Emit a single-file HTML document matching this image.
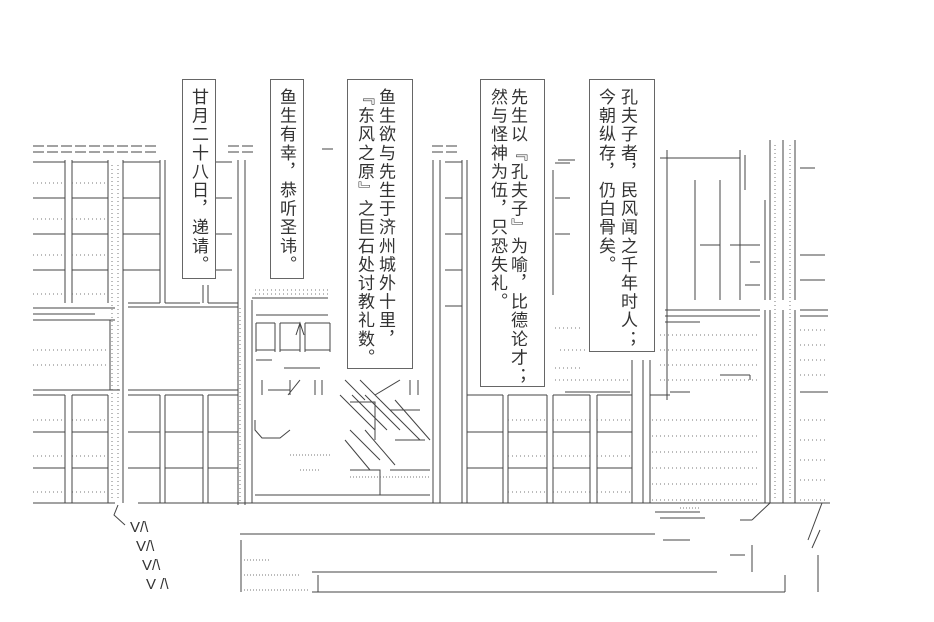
<!DOCTYPE html>
<html><head><meta charset="utf-8"><style>
html,body{margin:0;padding:0;background:#fff;width:934px;height:622px;overflow:hidden;position:relative}
.box{position:absolute;border:1px solid #666;background:#fff}
.col{position:absolute;writing-mode:vertical-rl;font-family:"Liberation Sans","Noto Sans CJK SC",sans-serif;font-size:17px;letter-spacing:1.6px;line-height:18px;color:#333;top:88px;width:18px}
svg{position:absolute;left:0;top:0}
</style></head><body>
<svg width="934" height="622" viewBox="0 0 934 622" stroke="#444" stroke-width="1" fill="none">
<g stroke-dasharray="11 3">
<path d="M33 146H158M33 152H158M228 146H256M228 152H256M322 149H334M432 146H460M432 152H460"/>
</g>
<path d="M65 160V303M72 160V303M108 160V303M123 160V503M160 160V303M165 160V303M238 160V505M245 160V505"/>
<path d="M33 162H65M72 162H108M123 162H160M33 198H65M72 198H108M123 198H160M33 234H65M72 234H108M123 234H160M33 270H65M72 270H108M123 270H160M215 162H232M215 198H232M215 234H232M215 270H232"/>
<path d="M128 303H160M165 303H200M208 303H238M252 298H328M203 285V303M208 285V303"/>
<g stroke="#777" stroke-dasharray="1 3">
<path d="M33 183H65M72 183H108M33 219H65M72 219H108M33 255H65M72 255H108M33 294H65M72 294H108M112 165V500M118 165V500"/>
<path d="M33 350H108M33 365H108M33 420H65M72 420H108M33 456H65M72 456H108M33 492H65M72 492H108M255 290H330M255 294H330"/>
</g>
<path d="M33 308H115M33 314H95M33 320H115M128 307H238M33 390H120M128 390H238M110 320V390"/>
<path d="M65 395V503M72 395V503M108 395V503M160 395V503M165 395V503M203 395V503M208 395V503M252 300V503"/>
<path d="M33 395H65M72 395H108M128 395H160M165 395H203M208 395H238M33 432H65M72 432H108M128 432H160M165 432H203M208 432H238M33 468H65M72 468H108M128 468H160M165 468H203M208 468H238M33 503H115M138 503H830"/>
<path d="M256 315H328M256 323V352M275 323V352M280 323V352M300 323V352M305 323V352M330 323V352M256 323H275M280 323H300M305 323H330M256 350H275M280 350H300M305 350H330M296 335L300 323L304 335M256 360H272M284 368H320"/>
<path d="M262 380V395M268 390H290M290 380V395M300 380L288 395M315 380V395M322 380V395M345 380L365 400M360 380L380 400M410 380V395M418 380V395M375 395L400 380"/>
<path d="M340 395L375 430M352 395L387 430M365 395L400 430M380 400L420 440M395 400L430 440M350 430L380 460M365 430L395 465M345 440L370 470M255 420V430L262 438H280L290 430M350 402H375V440M390 410H420M395 440H425M390 470H430M350 470H380V495M255 495H430"/>
<g stroke="#777" stroke-dasharray="1 2"><path d="M350 477H430M290 455H330M300 470H320"/></g>
<path d="M433 160V503M440 160V503M462 160V503M467 160V503M445 162H462M445 198H462M445 234H462M445 270H462M445 306H462M553 170V295M555 163H570M555 198H570M555 234H570M558 160H575"/>
<path d="M503 395V503M508 395V503M547 395V503M553 395V503M590 395V503M597 395V503M632 360V503M643 360V503M650 360V503M765 310V503M770 310V503M783 310V503M795 310V503M765 200V300M770 140V300M783 140V300M795 140V300"/>
<path d="M467 395H503M508 395H547M553 395H590M597 395H632M467 432H503M508 432H547M553 432H590M597 432H632M467 468H503M508 468H547M553 468H590M597 468H632M565 392H630M650 395H670M670 392H690"/>
<g stroke="#777" stroke-dasharray="1 3">
<path d="M555 328H580M560 350H585M555 368H580M555 380H630M652 420H760M652 436H760M652 452H760M652 468H760M652 484H760M652 500H760M508 420H547M553 420H590M597 420H632M508 456H547M553 456H590M597 456H632M508 492H547M553 492H590M597 492H632M800 330H828M800 345H828M800 360H828M800 375H828M800 420H828M800 440H828M800 460H828M800 480H828M800 500H828M775 145V500M790 145V500M660 335H760M660 350H760M660 365H760M660 380H760M240 308V503"/>
</g>
<path d="M667 150V400M665 310H760M665 316H760M665 322H700M800 310H828M800 316H828M800 392H828M720 375H750M750 375V380M660 158H740M745 155V190M695 180V300M720 180V300M740 150V300M730 245H760M745 285H760M700 245H720M750 262H760M800 168H815M800 255H825M800 280H825"/>
<path d="M240 534H655M241 540V592M312 572H717M312 592H785M318 575V592M785 575V592M752 545V572M770 503L752 520M752 520H740M818 555V592M822 503L808 540M820 530L812 548M655 512H700M660 518H705M730 555H745M663 540H690"/>
<g stroke="#777" stroke-dasharray="1 2"><path d="M244 560H270M244 575H300M244 590H310M680 508H700"/></g>
<path d="M118 505L114 515L125 525"/>
</svg>
<div style="position:absolute;left:118px;top:518px;font:15px 'Liberation Sans',sans-serif;line-height:19px;color:#333">
<div style="padding-left:12px">V/\</div><div style="padding-left:18px">V/\</div><div style="padding-left:24px">V/\</div><div style="padding-left:28px">V /\</div></div>

<div class="box" style="left:182px;top:79px;width:32px;height:198px"></div>
<div class="col" style="left:189px">甘月二十八日，递请。</div>
<div class="box" style="left:270px;top:79px;width:32px;height:198px"></div>
<div class="col" style="left:277px">鱼生有幸，恭听圣讳。</div>
<div class="box" style="left:347px;top:79px;width:64px;height:288px"></div>
<div class="col" style="left:376px">鱼生欲与先生于济州城外十里，</div>
<div class="col" style="left:355px">『东风之原』之巨石处讨教礼数。</div>
<div class="box" style="left:480px;top:79px;width:63px;height:306px"></div>
<div class="col" style="left:508px">先生以『孔夫子』为喻，比德论才；</div>
<div class="col" style="left:488px">然与怪神为伍，只恐失礼。</div>
<div class="box" style="left:589px;top:79px;width:64px;height:271px"></div>
<div class="col" style="left:618px">孔夫子者，民风闻之千年时人；</div>
<div class="col" style="left:596px">今朝纵存，仍白骨矣。</div>
</body></html>
